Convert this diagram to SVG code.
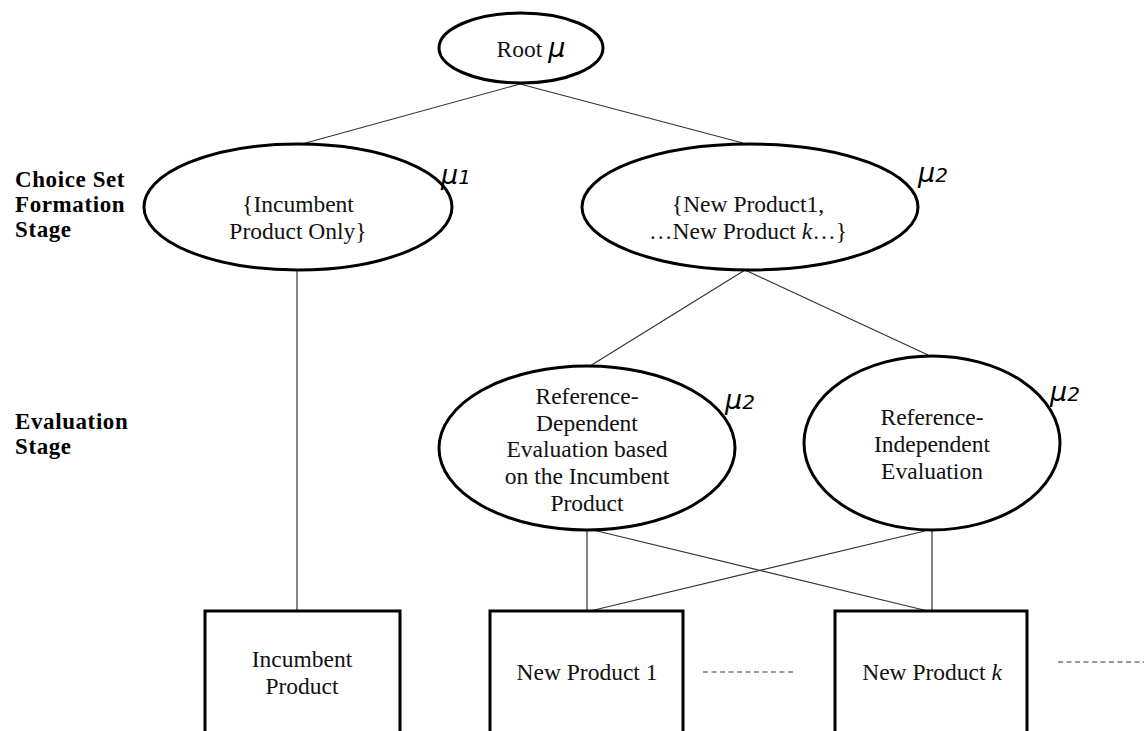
<svg xmlns="http://www.w3.org/2000/svg" width="1144" height="731" viewBox="0 0 1144 731">
  <style>
    .node { fill: #fff; stroke: #000; stroke-width: 3; }
    .edge { stroke: #333; stroke-width: 1.2; fill: none; }
    .dash { stroke: #333; stroke-width: 1.2; stroke-dasharray: 5 3.5; }
    .lbl { font-family: "Liberation Serif", "Times New Roman", serif; font-size: 23.5px; fill: #111; text-anchor: middle; }
    .stage { font-family: "Liberation Serif", "Times New Roman", serif; font-size: 23px; font-weight: bold; letter-spacing: 0.6px; fill: #000; }
    .mu { font-family: "DejaVu Sans", "Open Sans", sans-serif; font-style: italic; font-size: 27px; fill: #000; }
    .sub { font-size: 20px; }
  </style>

  <!-- stage captions -->
  <g id="stage-choice">
    <text class="stage" x="15" y="187">Choice Set</text>
    <text class="stage" x="15" y="212">Formation</text>
    <text class="stage" x="15" y="237">Stage</text>
  </g>
  <g id="stage-eval">
    <text class="stage" x="15" y="429">Evaluation</text>
    <text class="stage" x="15" y="454">Stage</text>
  </g>

  <!-- connectors -->
  <g id="connectors">
    <line class="edge" x1="520" y1="84" x2="302" y2="144"/>
    <line class="edge" x1="520" y1="84" x2="743" y2="143"/>
    <line class="edge" x1="297" y1="270" x2="297" y2="611"/>
    <line class="edge" x1="745" y1="270" x2="590" y2="366"/>
    <line class="edge" x1="745" y1="270" x2="928" y2="355"/>
    <line class="edge" x1="587" y1="530" x2="587" y2="611"/>
    <line class="edge" x1="593" y1="530" x2="928" y2="611"/>
    <line class="edge" x1="932" y1="530" x2="932" y2="611"/>
    <line class="edge" x1="925" y1="531" x2="590" y2="611"/>
    <line class="dash" x1="703" y1="672" x2="795" y2="672"/>
    <line class="dash" x1="1058" y1="662" x2="1144" y2="662"/>
  </g>

  <g id="root">
    <ellipse class="node" cx="521" cy="48" rx="82" ry="35"/>
    <text class="lbl" x="531" y="57">Root <tspan class="mu" font-size="28">μ</tspan></text>
  </g>

  <g id="incumbent-set">
    <ellipse class="node" cx="298" cy="207" rx="154" ry="63"/>
    <text class="lbl" x="298" y="212">{Incumbent</text>
    <text class="lbl" x="298" y="239">Product Only}</text>
    <text class="mu" x="441" y="184">μ<tspan class="sub">1</tspan></text>
  </g>

  <g id="new-set">
    <ellipse class="node" cx="750" cy="207" rx="168" ry="63"/>
    <text class="lbl" x="748" y="212">{New Product1,</text>
    <text class="lbl" x="748" y="239">…New Product <tspan font-style="italic">k</tspan>…}</text>
    <text class="mu" x="918" y="182">μ<tspan class="sub">2</tspan></text>
  </g>

  <g id="ref-dependent">
    <ellipse class="node" cx="587" cy="448" rx="148" ry="82"/>
    <text class="lbl" x="587" y="404">Reference-</text>
    <text class="lbl" x="587" y="431">Dependent</text>
    <text class="lbl" x="587" y="457">Evaluation based</text>
    <text class="lbl" x="587" y="484">on the Incumbent</text>
    <text class="lbl" x="587" y="511">Product</text>
    <text class="mu" x="725" y="409">μ<tspan class="sub">2</tspan></text>
  </g>

  <g id="ref-independent">
    <ellipse class="node" cx="932" cy="443" rx="128" ry="87"/>
    <text class="lbl" x="932" y="425">Reference-</text>
    <text class="lbl" x="932" y="452">Independent</text>
    <text class="lbl" x="932" y="479">Evaluation</text>
    <text class="mu" x="1050" y="401">μ<tspan class="sub">2</tspan></text>
  </g>

  <g id="incumbent-product">
    <rect class="node" x="205" y="611" width="195" height="130"/>
    <text class="lbl" x="302" y="667">Incumbent</text>
    <text class="lbl" x="302" y="694">Product</text>
  </g>

  <g id="new-product-1">
    <rect class="node" x="490" y="611" width="193" height="130"/>
    <text class="lbl" x="587" y="680">New Product 1</text>
  </g>

  <g id="new-product-k">
    <rect class="node" x="835" y="611" width="192" height="130"/>
    <text class="lbl" x="932" y="680">New Product <tspan font-style="italic">k</tspan></text>
  </g>
</svg>
